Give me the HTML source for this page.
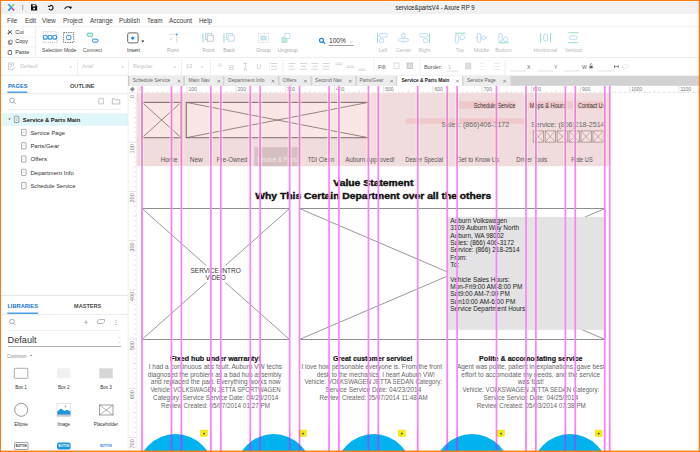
<!DOCTYPE html>
<html><head><meta charset="utf-8"><style>
html,body{margin:0;padding:0;width:700px;height:452px;overflow:hidden;background:#fff}
svg{display:block;font-family:"Liberation Sans", sans-serif}
</style></head><body>
<svg width="700" height="452" viewBox="0 0 700 452">
<rect x="0" y="0" width="700" height="452" fill="#ffffff"/>
<rect x="0" y="1.4" width="700" height="13.2" fill="#f1f1f1"/>
<rect x="0" y="14" width="700" height="12.5" fill="#ffffff"/>
<rect x="0" y="26.5" width="700" height="0.8" fill="#ebebeb"/>
<path d="M8.4,4.3 L11.6,7.4 L8.3,10.6" stroke="#1e9be8" stroke-width="1.6" fill="none"/>
<path d="M14,4.3 L12.3,6.2" stroke="#7dc242" stroke-width="1.4" fill="none"/>
<path d="M12.2,8.4 L14.1,10.5" stroke="#e6197e" stroke-width="1.4" fill="none"/>
<rect x="22.3" y="4.8" width="0.9" height="5.2" fill="#9a9a9a"/>
<path d="M31,4.3 h4.5 l1.6,1.6 v4.6 h-6.1 z" fill="#111"/>
<rect x="32.6" y="4.8" width="2.8" height="1.6" fill="#f1f1f1"/>
<rect x="33.2" y="7.8" width="1.8" height="1.6" fill="#f1f1f1"/>
<path d="M50.1,5.6 A2.2,2.2 0 1 1 48.9,8.8" stroke="#111" stroke-width="1.1" fill="none"/>
<path d="M47.9,6.3 L50.4,6.3" stroke="#111" stroke-width="1.2" fill="none"/>
<path d="M64.6,8.9 Q67.2,5.4 70,7.6" stroke="#111" stroke-width="1.1" fill="none"/>
<path d="M69,6.6 L72.2,6.7 L70.6,9.3 z" fill="#111"/>
<text x="395.5" y="9.6" font-size="6.4" fill="#222" textLength="79" lengthAdjust="spacingAndGlyphs">service&amp;partsV4 - Axure RP 9</text>
<text x="7" y="23" font-size="6.4" fill="#3c3c3c" font-weight="normal" text-anchor="start" >File</text>
<text x="25" y="23" font-size="6.4" fill="#3c3c3c" font-weight="normal" text-anchor="start" >Edit</text>
<text x="42" y="23" font-size="6.4" fill="#3c3c3c" font-weight="normal" text-anchor="start" >View</text>
<text x="63" y="23" font-size="6.4" fill="#3c3c3c" font-weight="normal" text-anchor="start" >Project</text>
<text x="90" y="23" font-size="6.4" fill="#3c3c3c" font-weight="normal" text-anchor="start" >Arrange</text>
<text x="119" y="23" font-size="6.4" fill="#3c3c3c" font-weight="normal" text-anchor="start" >Publish</text>
<text x="147" y="23" font-size="6.4" fill="#3c3c3c" font-weight="normal" text-anchor="start" >Team</text>
<text x="169" y="23" font-size="6.4" fill="#3c3c3c" font-weight="normal" text-anchor="start" >Account</text>
<text x="199" y="23" font-size="6.4" fill="#3c3c3c" font-weight="normal" text-anchor="start" >Help</text>
<rect x="0" y="27.3" width="700" height="30" fill="#ffffff"/>
<rect x="0" y="57.2" width="700" height="0.9" fill="#e9e9e9"/>
<rect x="35.3" y="27.3" width="0.8" height="30" fill="#ececec"/>
<rect x="2" y="36.8" width="33" height="0.7" fill="#efefef"/>
<rect x="2" y="46.8" width="33" height="0.7" fill="#efefef"/>
<path d="M8,30.3 L12,33.8 M12,30.3 L8,33.8" stroke="#444" stroke-width="0.9"/>
<circle cx="8.4" cy="33.4" r="0.7" fill="none" stroke="#444" stroke-width="0.5"/>
<text x="15.3" y="33.5" font-size="5.5" fill="#333" font-weight="normal" text-anchor="start" >Cut</text>
<path d="M8.4,40.4 v3.4 a0.6,0.6 0 0 0 0.6,0.6 h2.6" stroke="#555" stroke-width="0.7" fill="none"/>
<rect x="9.6" y="40.2" width="2.6" height="3.4" rx="0.5" fill="none" stroke="#555" stroke-width="0.7"/>
<text x="15.2" y="43.4" font-size="5.5" fill="#333" font-weight="normal" text-anchor="start" >Copy</text>
<rect x="8.2" y="50.6" width="3.4" height="3.9" rx="0.5" fill="none" stroke="#555" stroke-width="0.8"/>
<rect x="9.1" y="50.1" width="1.6" height="0.9" fill="#555"/>
<text x="15.2" y="53.6" font-size="5.5" fill="#333" font-weight="normal" text-anchor="start" >Paste</text>
<rect x="43.3" y="31.8" width="13.6" height="10.6" fill="none" stroke="#999" stroke-width="0.6" stroke-dasharray="1.1,0.9"/>
<circle cx="45.3" cy="37.3" r="2.0" fill="#fff" stroke="#2b8fe0" stroke-width="1.1"/>
<circle cx="50.0" cy="37.3" r="2.0" fill="#fff" stroke="#2b8fe0" stroke-width="1.1"/>
<circle cx="54.7" cy="37.3" r="2.0" fill="#fff" stroke="#2b8fe0" stroke-width="1.1"/>
<rect x="63.6" y="32.6" width="10.2" height="9.8" fill="none" stroke="#444" stroke-width="0.8" stroke-dasharray="1.3,1"/>
<rect x="66.6" y="35.4" width="4.3" height="4.2" rx="1" fill="#fff" stroke="#2b8fe0" stroke-width="1"/>
<text x="42.1" y="51.6" font-size="5.3" fill="#444" textLength="34.3" lengthAdjust="spacingAndGlyphs">Selection Mode</text>
<rect x="87.2" y="33.2" width="5.4" height="3" rx="1" fill="#fff" stroke="#40c8a8" stroke-width="1"/>
<rect x="92.6" y="39.2" width="5.4" height="3" rx="1" fill="#fff" stroke="#2b8fe0" stroke-width="1"/>
<path d="M90.5,36.3 L93.5,38.6" stroke="#aaa" stroke-width="0.6"/>
<text x="92.5" y="51.8" font-size="5.2" fill="#555" font-weight="normal" text-anchor="middle" >Connect</text>
<rect x="127.7" y="32.9" width="10.4" height="10" rx="1.5" fill="#fff" stroke="#555" stroke-width="0.9"/>
<path d="M132.8,36.2 L134.8,38.1 L132.8,40.1 L130.8,38.1 z" fill="#1e88e5"/>
<path d="M141.3,40.5 h3 l-1.5,1.7 z" fill="#111"/>
<text x="133.5" y="51.8" font-size="5.2" fill="#333" font-weight="normal" text-anchor="middle" >Insert</text>
<path d="M168.5,34.3 h8 M176.7,34.3 v8.5" stroke="#d8d8d8" stroke-width="0.8" fill="none"/>
<circle cx="176.7" cy="34.4" r="0.9" fill="#2b8fe0"/>
<path d="M169.8,40.3 L172.6,37.6" stroke="#aaa" stroke-width="0.7"/>
<text x="173" y="51.8" font-size="5.2" fill="#aaa" font-weight="normal" text-anchor="middle" >Point</text>
<path d="M203,33.5 v9" stroke="#7fd9bf" stroke-width="0.9"/>
<rect x="205.5" y="33.5" width="6" height="6" fill="#fff" stroke="#b8d8ee" stroke-width="0.9"/>
<rect x="207.2" y="35.2" width="6" height="6" fill="#fff" stroke="#c0c0c0" stroke-width="0.9"/>
<text x="208.5" y="51.8" font-size="5.2" fill="#aaa" font-weight="normal" text-anchor="middle" >Front</text>
<path d="M224,33.5 v9" stroke="#7fd9bf" stroke-width="0.9"/>
<rect x="226.5" y="33.5" width="6" height="6" fill="#fff" stroke="#b8d8ee" stroke-width="0.9"/>
<rect x="228.2" y="35.2" width="6" height="6" fill="#fff" stroke="#b8d8ee" stroke-width="0.9"/>
<text x="229" y="51.8" font-size="5.2" fill="#aaa" font-weight="normal" text-anchor="middle" >Back</text>
<rect x="258.5" y="33.5" width="10" height="9" fill="none" stroke="#bbb" stroke-width="0.6" stroke-dasharray="1,0.8"/>
<rect x="261" y="36" width="5" height="4" fill="#cde8f5" stroke="#9ccfe8" stroke-width="0.6"/>
<text x="263.5" y="51.8" font-size="5.2" fill="#aaa" font-weight="normal" text-anchor="middle" >Group</text>
<rect x="282" y="37.5" width="5" height="5" fill="#bfe8de" stroke="#8fd6c4" stroke-width="0.6"/>
<rect x="285" y="33.5" width="5" height="5" fill="#fff" stroke="#9ccfe8" stroke-width="0.6"/>
<text x="287.8" y="51.8" font-size="5.2" fill="#aaa" font-weight="normal" text-anchor="middle" >Ungroup</text>
<circle cx="321.5" cy="40.3" r="2" fill="none" stroke="#1e88e5" stroke-width="1.2"/>
<path d="M323,41.8 L325,43.8" stroke="#1e88e5" stroke-width="1.3"/>
<text x="329" y="43.2" font-size="6.6" fill="#333" font-weight="normal" text-anchor="start" >100%</text>
<rect x="328.5" y="45" width="25" height="0.7" fill="#777"/>
<path d="M350,41.5 l1.3,1.2 l1.3,-1.2" stroke="#999" stroke-width="0.5" fill="none"/>
<path d="M377.5,33.3 v9.5" stroke="#8fe0c8" stroke-width="1"/>
<rect x="379.3" y="33.6" width="8" height="3.4" rx="1.2" fill="none" stroke="#a8d4f0" stroke-width="0.8"/>
<rect x="379.3" y="38.7" width="4.5" height="3.8" rx="1.5" fill="none" stroke="#a8d4f0" stroke-width="0.8"/>
<text x="383" y="51.8" font-size="5.2" fill="#bbb" font-weight="normal" text-anchor="middle" >Left</text>
<circle cx="403.5" cy="35.4" r="1.9" fill="none" stroke="#a8d4f0" stroke-width="0.8"/>
<rect x="398.5" y="38.4" width="10" height="3" rx="1.3" fill="none" stroke="#a8d4f0" stroke-width="0.8"/>
<path d="M403.5,32.8 v1 M403.5,41.6 v1.4" stroke="#8fe0c8" stroke-width="0.8"/>
<text x="403.5" y="51.8" font-size="5.2" fill="#bbb" font-weight="normal" text-anchor="middle" >Center</text>
<path d="M429.5,33.3 v9.5" stroke="#8fe0c8" stroke-width="1"/>
<rect x="419.8" y="33.6" width="8" height="3.4" rx="1.2" fill="none" stroke="#a8d4f0" stroke-width="0.8"/>
<rect x="423.3" y="38.7" width="4.5" height="3.8" rx="1.5" fill="none" stroke="#a8d4f0" stroke-width="0.8"/>
<text x="424.5" y="51.8" font-size="5.2" fill="#bbb" font-weight="normal" text-anchor="middle" >Right</text>
<path d="M455,33.2 h10.5" stroke="#8fe0c8" stroke-width="1"/>
<rect x="455.3" y="35" width="3.4" height="8" rx="1.2" fill="none" stroke="#a8d4f0" stroke-width="0.8"/>
<rect x="460.3" y="35" width="4" height="4.5" rx="1.5" fill="none" stroke="#a8d4f0" stroke-width="0.8"/>
<text x="460" y="51.8" font-size="5.2" fill="#bbb" font-weight="normal" text-anchor="middle" >Top</text>
<path d="M475.3,37.8 h11.5" stroke="#8fe0c8" stroke-width="0.8"/>
<rect x="477.3" y="33.5" width="3.4" height="8.6" rx="1.3" fill="#fff" stroke="#a8d4f0" stroke-width="0.8"/>
<circle cx="483.6" cy="37.8" r="1.9" fill="#fff" stroke="#a8d4f0" stroke-width="0.8"/>
<text x="481.5" y="51.8" font-size="5.2" fill="#bbb" font-weight="normal" text-anchor="middle" >Middle</text>
<path d="M498.5,42.8 h10.5" stroke="#8fe0c8" stroke-width="1"/>
<rect x="498.8" y="33.5" width="3.4" height="8" rx="1.2" fill="none" stroke="#a8d4f0" stroke-width="0.8"/>
<rect x="503.6" y="37" width="4" height="4.5" rx="1.5" fill="none" stroke="#a8d4f0" stroke-width="0.8"/>
<text x="503.5" y="51.8" font-size="5.2" fill="#bbb" font-weight="normal" text-anchor="middle" >Bottom</text>
<path d="M540.6,33 v9.5 M550.6,33 v9.5" stroke="#8fe0c8" stroke-width="1"/>
<rect x="543.7" y="34.2" width="3.8" height="7" rx="1.5" fill="none" stroke="#a8d4f0" stroke-width="0.8"/>
<text x="545.5" y="51.8" font-size="5.2" fill="#bbb" font-weight="normal" text-anchor="middle" >Horizontal</text>
<path d="M568.3,32.7 h10 M568.3,42.7 h10" stroke="#8fe0c8" stroke-width="1"/>
<rect x="569.5" y="35.8" width="7.5" height="3.8" rx="1.5" fill="none" stroke="#a8d4f0" stroke-width="0.8"/>
<text x="573.3" y="51.8" font-size="5.2" fill="#bbb" font-weight="normal" text-anchor="middle" >Vertical</text>
<rect x="0" y="58.1" width="700" height="17" fill="#ffffff"/>
<rect x="0" y="74.8" width="128" height="0.9" fill="#e6e6e6"/>
<rect x="77" y="58.5" width="0.8" height="16.3" fill="#ececec"/>
<rect x="128" y="58.5" width="0.8" height="16.3" fill="#ececec"/>
<rect x="181" y="58.5" width="0.8" height="16.3" fill="#ececec"/>
<rect x="210" y="58.5" width="0.8" height="16.3" fill="#ececec"/>
<rect x="282.5" y="58.5" width="0.8" height="16.3" fill="#ececec"/>
<rect x="373.7" y="58.5" width="0.8" height="16.3" fill="#ececec"/>
<rect x="419.5" y="58.5" width="0.8" height="16.3" fill="#ececec"/>
<rect x="504.6" y="58.5" width="0.8" height="16.3" fill="#ececec"/>
<path d="M12.5,69.8 h-4 v-6.8 h5 v3.2 M9.6,64.6 h2.6 M9.6,66.2 h2.6 M9.6,67.8 h1.4" stroke="#b0b0b0" stroke-width="0.6" fill="none"/>
<path d="M12,70 l2.6,-2.6" stroke="#b0b0b0" stroke-width="0.8"/>
<text x="20" y="68.3" font-size="5.6" fill="#c4c4c4" font-weight="normal" text-anchor="start" >Default</text>
<path d="M69.3,66.6 h2.4 l-1.2,1.2 z" fill="#aaa"/>
<text x="82" y="68.3" font-size="5.6" fill="#c4c4c4" font-weight="normal" text-anchor="start" >Arial</text>
<path d="M121.3,66.6 h2.4 l-1.2,1.2 z" fill="#aaa"/>
<text x="133" y="68.3" font-size="5.6" fill="#c4c4c4" font-weight="normal" text-anchor="start" >Regular</text>
<path d="M173.5,66.6 h2.4 l-1.2,1.2 z" fill="#aaa"/>
<text x="186" y="68.3" font-size="5.6" fill="#c4c4c4" font-weight="normal" text-anchor="start" >13</text>
<path d="M201,66.6 h2.4 l-1.2,1.2 z" fill="#aaa"/>
<text x="218" y="67" font-size="5.6" fill="#ccc" font-weight="normal" text-anchor="start" >A</text>
<text x="228.8" y="70.2" font-size="8" fill="#cccccc" font-weight="normal" text-anchor="start" >B</text>
<path d="M243.5,63.3 h3.4 M243.6,69.7 h3.4 M245.9,63.3 l-1.2,6.4" stroke="#c8c8c8" stroke-width="0.8"/>
<text x="256.5" y="69" font-size="6.5" fill="#c8c8c8" font-weight="normal" text-anchor="start" >U</text>
<path d="M269,63.5 h1 m1,0 h6 M269,66.3 h1 m1,0 h6 M269,69.2 h1 m1,0 h6" stroke="#ccc" stroke-width="0.8"/>
<path d="M288.5,63.5 h7 M288.5,66.3 h5 M288.5,69.2 h7" stroke="#ccc" stroke-width="0.8"/>
<path d="M300,63.5 h7 M301,66.3 h5 M300,69.2 h7" stroke="#ccc" stroke-width="0.8"/>
<path d="M311.5,63.5 h7 M312.5,66.3 h5 M311.5,69.2 h7" stroke="#ccc" stroke-width="0.8"/>
<path d="M322.5,63.5 h7 M322.5,66.3 h7 M322.5,69.2 h7" stroke="#ccc" stroke-width="0.8"/>
<path d="M335.5,63 h7 M335.5,64.5 h7 M347,66 h7 M347,67.5 h7 M358.5,69 h7 M358.5,70.5 h7" stroke="#ccc" stroke-width="0.7"/>
<text x="378" y="68.8" font-size="5.6" fill="#555" font-weight="normal" text-anchor="start" >Fill:</text>
<rect x="394" y="63" width="5" height="5.5" fill="#fff" stroke="#ccc" stroke-width="0.7"/>
<rect x="407" y="63" width="5.5" height="5.5" fill="#ddd" stroke="#bbb" stroke-width="0.7"/>
<text x="424" y="68.8" font-size="5.6" fill="#555" font-weight="normal" text-anchor="start" >Border:</text>
<text x="448" y="68.5" font-size="5.6" fill="#bbb" font-weight="normal" text-anchor="start" >1</text>
<rect x="447" y="70.8" width="11" height="0.6" fill="#ccc"/>
<rect x="465.5" y="63" width="5.5" height="6" fill="#ddd" stroke="#ccc" stroke-width="0.5"/>
<path d="M480,63.5 h6 M480,66.5 h6 M480,69.5 h6" stroke="#ddd" stroke-width="0.6" stroke-dasharray="1,1"/>
<path d="M494,63.5 h6 M494,66.5 h6 M494,69.5 h6" stroke="#ddd" stroke-width="0.6"/>
<rect x="510" y="70.7" width="16" height="0.6" fill="#ccc"/>
<text x="527" y="68.8" font-size="5.2" fill="#666" font-weight="normal" text-anchor="start" >X</text>
<rect x="537" y="70.7" width="16" height="0.6" fill="#ccc"/>
<text x="554" y="68.8" font-size="5.2" fill="#666" font-weight="normal" text-anchor="start" >Y</text>
<rect x="564" y="70.7" width="16" height="0.6" fill="#ccc"/>
<text x="582" y="68.8" font-size="5.2" fill="#666" font-weight="normal" text-anchor="start" >W</text>
<rect x="589.5" y="65.8" width="3.2" height="2.6" fill="#666"/>
<path d="M590.2,65.8 v-1.2 a1,1 0 0 1 2,0" stroke="#666" stroke-width="0.6" fill="none"/>
<rect x="598" y="70.7" width="16" height="0.6" fill="#ccc"/>
<path d="M614.5,65 v3 M618.3,65 v3 M614.5,66.5 h3.8" stroke="#666" stroke-width="0.7"/>
<ellipse cx="625.5" cy="66.3" rx="3" ry="1.9" fill="none" stroke="#ddd" stroke-width="0.6"/>
<rect x="0" y="75.7" width="128" height="375" fill="#ffffff"/>
<rect x="0" y="93.3" width="128" height="0.9" fill="#e8e8e8"/>
<text x="8" y="87.8" font-size="5.7" fill="#1976d2" font-weight="bold" text-anchor="start" >PAGES</text>
<rect x="7.3" y="91.6" width="20" height="1.2" fill="#1e88e5"/>
<text x="70" y="87.8" font-size="5.6" fill="#4a4a4a" font-weight="bold" text-anchor="start" >OUTLINE</text>
<circle cx="12" cy="100.3" r="2.3" fill="none" stroke="#888" stroke-width="0.7"/>
<path d="M13.6,102 L15.6,104" stroke="#888" stroke-width="0.8"/>
<rect x="98.8" y="98.3" width="4.6" height="5.6" rx="0.6" fill="none" stroke="#999" stroke-width="0.6"/>
<path d="M112.3,98.8 h2.5 l0.8,1 h4.2 v4.2 h-7.5 z" fill="none" stroke="#999" stroke-width="0.6"/>
<rect x="8" y="109.2" width="113" height="0.7" fill="#e6e6e6"/>
<rect x="1" y="113.2" width="127" height="12.6" fill="#e0f7fa"/>
<path d="M8.3,118.5 h2.4 l-1.2,1.5 z" fill="#444"/>
<rect x="14.3" y="116.3" width="4.6" height="6.2" rx="0.5" fill="none" stroke="#666" stroke-width="0.6"/>
<path d="M15.6,118.2 h2 M15.6,119.4 h2 M15.6,120.6 h2" stroke="#999" stroke-width="0.4"/>
<text x="22.8" y="121.5" font-size="5.9" fill="#222" font-weight="bold" textLength="57.4" lengthAdjust="spacingAndGlyphs">Service &amp; Parts Main</text>
<rect x="21.5" y="129.4" width="4.6" height="6.2" rx="0.5" fill="none" stroke="#777" stroke-width="0.6"/>
<path d="M22.8,132.29999999999998 h2" stroke="#999" stroke-width="0.4"/>
<text x="30.4" y="134.70" font-size="5.8" fill="#333" textLength="34.60" lengthAdjust="spacingAndGlyphs">Service Page</text>
<rect x="21.5" y="142.68" width="4.6" height="6.2" rx="0.5" fill="none" stroke="#777" stroke-width="0.6"/>
<path d="M22.8,145.57999999999998 h2" stroke="#999" stroke-width="0.4"/>
<text x="30.4" y="147.98" font-size="5.8" fill="#333" textLength="28.80" lengthAdjust="spacingAndGlyphs">Parts/Gear</text>
<rect x="21.5" y="155.96" width="4.6" height="6.2" rx="0.5" fill="none" stroke="#777" stroke-width="0.6"/>
<path d="M22.8,158.85999999999999 h2" stroke="#999" stroke-width="0.4"/>
<text x="30.4" y="161.26" font-size="5.8" fill="#333" textLength="16.60" lengthAdjust="spacingAndGlyphs">Offers</text>
<rect x="21.5" y="169.24" width="4.6" height="6.2" rx="0.5" fill="none" stroke="#777" stroke-width="0.6"/>
<path d="M22.8,172.14 h2" stroke="#999" stroke-width="0.4"/>
<text x="30.4" y="174.54" font-size="5.8" fill="#333" textLength="43.50" lengthAdjust="spacingAndGlyphs">Department Info</text>
<rect x="21.5" y="182.52" width="4.6" height="6.2" rx="0.5" fill="none" stroke="#777" stroke-width="0.6"/>
<path d="M22.8,185.42 h2" stroke="#999" stroke-width="0.4"/>
<text x="30.4" y="187.82" font-size="5.8" fill="#333" textLength="45.10" lengthAdjust="spacingAndGlyphs">Schedule Service</text>
<rect x="0" y="295" width="128" height="1.3" fill="#e6e6e6"/>
<rect x="0" y="296.3" width="128" height="17.5" fill="#ffffff"/>
<text x="7.4" y="308.4" font-size="5.7" fill="#1976d2" font-weight="bold" text-anchor="start" >LIBRARIES</text>
<rect x="7.3" y="312.6" width="30.8" height="1.2" fill="#1e88e5"/>
<text x="74" y="308.4" font-size="5.6" fill="#4a4a4a" font-weight="bold" text-anchor="start" >MASTERS</text>
<rect x="0" y="314" width="128" height="0.8" fill="#e8e8e8"/>
<circle cx="12" cy="321.5" r="2.3" fill="none" stroke="#888" stroke-width="0.7"/>
<path d="M13.6,323.2 L15.6,325.2" stroke="#888" stroke-width="0.8"/>
<path d="M86,320 v4.6 M83.7,322.3 h4.6" stroke="#999" stroke-width="0.6"/>
<path d="M97.5,321 l2,-1.5 h5 v2.5 l-2,1.5 h-5 z" fill="none" stroke="#888" stroke-width="0.6"/>
<path d="M116,320 v0.9 M116,322 v0.9 M116,324 v0.9" stroke="#888" stroke-width="0.8"/>
<rect x="8" y="330.2" width="113" height="0.7" fill="#eaeaea"/>
<text x="7.6" y="343" font-size="8.8" fill="#333" textLength="29" lengthAdjust="spacingAndGlyphs">Default</text>
<path d="M117.8,338.3 l1.2,-1.2 l1.2,1.2 M117.8,341.6 l1.2,1.2 l1.2,-1.2" stroke="#bbb" stroke-width="0.5" fill="none"/>
<rect x="8" y="346.2" width="113" height="0.8" fill="#999"/>
<text x="7" y="357.5" font-size="4.8" fill="#888" font-weight="normal" text-anchor="start" >Common</text>
<path d="M30,355 h2 l-1,1.3 z" fill="#555"/>
<rect x="14.3" y="368.3" width="13.5" height="10" rx="0.8" fill="#fff" stroke="#888" stroke-width="0.7"/>
<rect x="57" y="368.3" width="13.5" height="10" fill="#f0f0f0"/>
<rect x="99.3" y="368.3" width="13.5" height="10" fill="#d6d6d6"/>
<text x="21" y="389.2" font-size="4.6" fill="#333" font-weight="normal" text-anchor="middle" >Box 1</text>
<text x="63.8" y="389.2" font-size="4.6" fill="#333" font-weight="normal" text-anchor="middle" >Box 2</text>
<text x="106" y="389.2" font-size="4.6" fill="#333" font-weight="normal" text-anchor="middle" >Box 3</text>
<circle cx="21.2" cy="409.8" r="6.5" fill="#fff" stroke="#666" stroke-width="0.7"/>
<rect x="57" y="403.3" width="13.6" height="13.5" fill="#fff" stroke="#ccc" stroke-width="0.5"/>
<path d="M57.3,411.5 L61,408.5 L64.5,411 L67,409.8 L70.4,411.3 V415.5 H57.3 z" fill="#1e96d8"/>
<rect x="57.3" y="414.5" width="13.1" height="2" fill="#c8c8c8"/>
<circle cx="65.5" cy="406.5" r="1.2" fill="#ccc"/>
<rect x="99.5" y="405" width="13.5" height="10" fill="#fff" stroke="#666" stroke-width="0.6"/>
<path d="M99.5,405 L113,415 M113,405 L99.5,415" stroke="#666" stroke-width="0.5"/>
<text x="21" y="425.5" font-size="4.6" fill="#333" font-weight="normal" text-anchor="middle" >Ellipse</text>
<text x="63.8" y="425.5" font-size="4.6" fill="#333" font-weight="normal" text-anchor="middle" >Image</text>
<text x="106" y="425.5" font-size="4.6" fill="#333" font-weight="normal" text-anchor="middle" >Placeholder</text>
<rect x="14.5" y="442.5" width="13.5" height="7" rx="1" fill="#fff" stroke="#666" stroke-width="0.6"/>
<text x="21.2" y="447.3" font-size="2.6" fill="#333" font-weight="bold" text-anchor="middle" >BUTTON</text>
<rect x="57" y="442.5" width="13.6" height="7" rx="2" fill="#1e96d8"/>
<text x="63.8" y="447.3" font-size="2.6" fill="#fff" font-weight="bold" text-anchor="middle" >BUTTON</text>
<text x="106" y="447.3" font-size="2.8" fill="#1e88e5" font-weight="bold" text-anchor="middle" >BUTTON</text>
<rect x="127.8" y="75.7" width="0.8" height="375" fill="#e2e2e2"/>
<rect x="128.6" y="75.7" width="572" height="10.2" fill="#d2d2d2"/>
<rect x="128" y="75.7" width="1.2" height="10.2" fill="#c8c8c8"/>
<rect x="129.3" y="75.9" width="53.79999999999998" height="10" fill="#ececec"/>
<text x="132.80" y="82.4" font-size="5.4" fill="#666" font-weight="normal" textLength="37.50" lengthAdjust="spacingAndGlyphs" >Schedule Service</text>
<path d="M177.79999999999998,79.9 l2.6,2.6 M180.4,79.9 l-2.6,2.6" stroke="#555" stroke-width="0.55"/>
<rect x="185" y="75.9" width="37.80000000000001" height="10" fill="#ececec"/>
<text x="188.60" y="82.4" font-size="5.4" fill="#666" font-weight="normal" textLength="21.30" lengthAdjust="spacingAndGlyphs" >Main Nav</text>
<path d="M217.6,79.9 l2.6,2.6 M220.20000000000002,79.9 l-2.6,2.6" stroke="#555" stroke-width="0.55"/>
<rect x="224.3" y="75.9" width="53.599999999999966" height="10" fill="#ececec"/>
<text x="228.00" y="82.4" font-size="5.4" fill="#666" font-weight="normal" textLength="36.60" lengthAdjust="spacingAndGlyphs" >Department Info</text>
<path d="M271.8,79.9 l2.6,2.6 M274.40000000000003,79.9 l-2.6,2.6" stroke="#555" stroke-width="0.55"/>
<rect x="279.5" y="75.9" width="31.100000000000023" height="10" fill="#ececec"/>
<text x="282.60" y="82.4" font-size="5.4" fill="#666" font-weight="normal" textLength="14.10" lengthAdjust="spacingAndGlyphs" >Offers</text>
<path d="M304.09999999999997,79.9 l2.6,2.6 M306.7,79.9 l-2.6,2.6" stroke="#555" stroke-width="0.55"/>
<rect x="312.1" y="75.9" width="43.299999999999955" height="10" fill="#ececec"/>
<text x="315.10" y="82.4" font-size="5.4" fill="#666" font-weight="normal" textLength="26.90" lengthAdjust="spacingAndGlyphs" >Second Nav</text>
<path d="M349.0,79.9 l2.6,2.6 M351.6,79.9 l-2.6,2.6" stroke="#555" stroke-width="0.55"/>
<rect x="357" y="75.9" width="38.80000000000001" height="10" fill="#ececec"/>
<text x="359.40" y="82.4" font-size="5.4" fill="#666" font-weight="normal" textLength="24.00" lengthAdjust="spacingAndGlyphs" >Parts/Gear</text>
<path d="M390.4,79.9 l2.6,2.6 M393.0,79.9 l-2.6,2.6" stroke="#555" stroke-width="0.55"/>
<rect x="397.2" y="75.9" width="64.80000000000001" height="10" fill="#ffffff"/>
<text x="401.40" y="82.4" font-size="5.4" fill="#222" font-weight="bold" textLength="47.80" lengthAdjust="spacingAndGlyphs" >Service &amp; Parts Main</text>
<path d="M456.2,79.9 l2.6,2.6 M458.8,79.9 l-2.6,2.6" stroke="#555" stroke-width="0.55"/>
<rect x="463.3" y="75.9" width="47.30000000000001" height="10" fill="#ececec"/>
<text x="466.90" y="82.4" font-size="5.4" fill="#666" font-weight="normal" textLength="28.90" lengthAdjust="spacingAndGlyphs" >Service Page</text>
<path d="M503.3,79.9 l2.6,2.6 M505.90000000000003,79.9 l-2.6,2.6" stroke="#555" stroke-width="0.55"/>
<rect x="128.6" y="85.9" width="572" height="7" fill="#ffffff"/>
<rect x="128.6" y="92.6" width="572" height="0.5" fill="#e3e3e3"/>
<rect x="128.6" y="85.9" width="8" height="365" fill="#ffffff"/>
<rect x="136.1" y="93" width="0.6" height="358" fill="#e3e3e3"/>
<path d="M132.4,86.8 l2.5,2.5 l-2.5,2.5 l-2.5,-2.5 z" fill="#8e8e8e"/>
<text x="139.2" y="91.2" font-size="5.0" fill="#777" font-weight="normal" text-anchor="start" >0</text>
<text x="188.39999999999998" y="91.2" font-size="5.0" fill="#777" font-weight="normal" text-anchor="start" >100</text>
<text x="237.6" y="91.2" font-size="5.0" fill="#777" font-weight="normal" text-anchor="start" >200</text>
<text x="286.79999999999995" y="91.2" font-size="5.0" fill="#777" font-weight="normal" text-anchor="start" >300</text>
<text x="336.0" y="91.2" font-size="5.0" fill="#777" font-weight="normal" text-anchor="start" >400</text>
<text x="385.2" y="91.2" font-size="5.0" fill="#777" font-weight="normal" text-anchor="start" >500</text>
<text x="434.4" y="91.2" font-size="5.0" fill="#777" font-weight="normal" text-anchor="start" >600</text>
<text x="483.59999999999997" y="91.2" font-size="5.0" fill="#777" font-weight="normal" text-anchor="start" >700</text>
<text x="532.8" y="91.2" font-size="5.0" fill="#777" font-weight="normal" text-anchor="start" >800</text>
<text x="582.0" y="91.2" font-size="5.0" fill="#777" font-weight="normal" text-anchor="start" >900</text>
<text x="631.2" y="91.2" font-size="5.0" fill="#777" font-weight="normal" text-anchor="start" >1000</text>
<text x="680.4000000000001" y="91.2" font-size="5.0" fill="#777" font-weight="normal" text-anchor="start" >1100</text>
<path d="M137.70,86 v6.8 M142.62,91.3 v1.5 M147.54,91.3 v1.5 M152.46,91.3 v1.5 M157.38,91.3 v1.5 M162.30,90 v2.8 M167.22,91.3 v1.5 M172.14,91.3 v1.5 M177.06,91.3 v1.5 M181.98,91.3 v1.5 M186.90,86 v6.8 M191.82,91.3 v1.5 M196.74,91.3 v1.5 M201.66,91.3 v1.5 M206.58,91.3 v1.5 M211.50,90 v2.8 M216.42,91.3 v1.5 M221.34,91.3 v1.5 M226.26,91.3 v1.5 M231.18,91.3 v1.5 M236.10,86 v6.8 M241.02,91.3 v1.5 M245.94,91.3 v1.5 M250.86,91.3 v1.5 M255.78,91.3 v1.5 M260.70,90 v2.8 M265.62,91.3 v1.5 M270.54,91.3 v1.5 M275.46,91.3 v1.5 M280.38,91.3 v1.5 M285.30,86 v6.8 M290.22,91.3 v1.5 M295.14,91.3 v1.5 M300.06,91.3 v1.5 M304.98,91.3 v1.5 M309.90,90 v2.8 M314.82,91.3 v1.5 M319.74,91.3 v1.5 M324.66,91.3 v1.5 M329.58,91.3 v1.5 M334.50,86 v6.8 M339.42,91.3 v1.5 M344.34,91.3 v1.5 M349.26,91.3 v1.5 M354.18,91.3 v1.5 M359.10,90 v2.8 M364.02,91.3 v1.5 M368.94,91.3 v1.5 M373.86,91.3 v1.5 M378.78,91.3 v1.5 M383.70,86 v6.8 M388.62,91.3 v1.5 M393.54,91.3 v1.5 M398.46,91.3 v1.5 M403.38,91.3 v1.5 M408.30,90 v2.8 M413.22,91.3 v1.5 M418.14,91.3 v1.5 M423.06,91.3 v1.5 M427.98,91.3 v1.5 M432.90,86 v6.8 M437.82,91.3 v1.5 M442.74,91.3 v1.5 M447.66,91.3 v1.5 M452.58,91.3 v1.5 M457.50,90 v2.8 M462.42,91.3 v1.5 M467.34,91.3 v1.5 M472.26,91.3 v1.5 M477.18,91.3 v1.5 M482.10,86 v6.8 M487.02,91.3 v1.5 M491.94,91.3 v1.5 M496.86,91.3 v1.5 M501.78,91.3 v1.5 M506.70,90 v2.8 M511.62,91.3 v1.5 M516.54,91.3 v1.5 M521.46,91.3 v1.5 M526.38,91.3 v1.5 M531.30,86 v6.8 M536.22,91.3 v1.5 M541.14,91.3 v1.5 M546.06,91.3 v1.5 M550.98,91.3 v1.5 M555.90,90 v2.8 M560.82,91.3 v1.5 M565.74,91.3 v1.5 M570.66,91.3 v1.5 M575.58,91.3 v1.5 M580.50,86 v6.8 M585.42,91.3 v1.5 M590.34,91.3 v1.5 M595.26,91.3 v1.5 M600.18,91.3 v1.5 M605.10,90 v2.8 M610.02,91.3 v1.5 M614.94,91.3 v1.5 M619.86,91.3 v1.5 M624.78,91.3 v1.5 M629.70,86 v6.8 M634.62,91.3 v1.5 M639.54,91.3 v1.5 M644.46,91.3 v1.5 M649.38,91.3 v1.5 M654.30,90 v2.8 M659.22,91.3 v1.5 M664.14,91.3 v1.5 M669.06,91.3 v1.5 M673.98,91.3 v1.5 M678.90,86 v6.8 M683.82,91.3 v1.5 M688.74,91.3 v1.5 M693.66,91.3 v1.5 M698.58,91.3 v1.5" stroke="#c4c4c4" stroke-width="0.5"/>
<text x="0" y="0" font-size="5.5" fill="#777" transform="translate(134.3,94.90) rotate(-90) translate(-3.06,0)">0</text>
<text x="0" y="0" font-size="5.5" fill="#777" transform="translate(134.3,144.10) rotate(-90) translate(-9.18,0)">100</text>
<text x="0" y="0" font-size="5.5" fill="#777" transform="translate(134.3,193.30) rotate(-90) translate(-9.18,0)">200</text>
<text x="0" y="0" font-size="5.5" fill="#777" transform="translate(134.3,242.50) rotate(-90) translate(-9.18,0)">300</text>
<text x="0" y="0" font-size="5.5" fill="#777" transform="translate(134.3,291.70) rotate(-90) translate(-9.18,0)">400</text>
<text x="0" y="0" font-size="5.5" fill="#777" transform="translate(134.3,340.90) rotate(-90) translate(-9.18,0)">500</text>
<text x="0" y="0" font-size="5.5" fill="#777" transform="translate(134.3,390.10) rotate(-90) translate(-9.18,0)">600</text>
<text x="0" y="0" font-size="5.5" fill="#777" transform="translate(134.3,439.30) rotate(-90) translate(-9.18,0)">700</text>
<path d="M129,93.00 h7 M134.3,97.92 h1.7 M134.3,102.84 h1.7 M134.3,107.76 h1.7 M134.3,112.68 h1.7 M133,117.60 h3 M134.3,122.52 h1.7 M134.3,127.44 h1.7 M134.3,132.36 h1.7 M134.3,137.28 h1.7 M129,142.20 h7 M134.3,147.12 h1.7 M134.3,152.04 h1.7 M134.3,156.96 h1.7 M134.3,161.88 h1.7 M133,166.80 h3 M134.3,171.72 h1.7 M134.3,176.64 h1.7 M134.3,181.56 h1.7 M134.3,186.48 h1.7 M129,191.40 h7 M134.3,196.32 h1.7 M134.3,201.24 h1.7 M134.3,206.16 h1.7 M134.3,211.08 h1.7 M133,216.00 h3 M134.3,220.92 h1.7 M134.3,225.84 h1.7 M134.3,230.76 h1.7 M134.3,235.68 h1.7 M129,240.60 h7 M134.3,245.52 h1.7 M134.3,250.44 h1.7 M134.3,255.36 h1.7 M134.3,260.28 h1.7 M133,265.20 h3 M134.3,270.12 h1.7 M134.3,275.04 h1.7 M134.3,279.96 h1.7 M134.3,284.88 h1.7 M129,289.80 h7 M134.3,294.72 h1.7 M134.3,299.64 h1.7 M134.3,304.56 h1.7 M134.3,309.48 h1.7 M133,314.40 h3 M134.3,319.32 h1.7 M134.3,324.24 h1.7 M134.3,329.16 h1.7 M134.3,334.08 h1.7 M129,339.00 h7 M134.3,343.92 h1.7 M134.3,348.84 h1.7 M134.3,353.76 h1.7 M134.3,358.68 h1.7 M133,363.60 h3 M134.3,368.52 h1.7 M134.3,373.44 h1.7 M134.3,378.36 h1.7 M134.3,383.28 h1.7 M129,388.20 h7 M134.3,393.12 h1.7 M134.3,398.04 h1.7 M134.3,402.96 h1.7 M134.3,407.88 h1.7 M133,412.80 h3 M134.3,417.72 h1.7 M134.3,422.64 h1.7 M134.3,427.56 h1.7 M134.3,432.48 h1.7 M129,437.40 h7 M134.3,442.32 h1.7 M134.3,447.24 h1.7" stroke="#c4c4c4" stroke-width="0.5"/>
<rect x="136.7" y="93.1" width="563" height="357" fill="#ffffff"/>
<rect x="136.7" y="93.1" width="472.5" height="73.1" fill="#f0dbdd"/>
<rect x="142.1" y="102.4" width="39" height="35.3" fill="#fbe6e6" stroke="#8a7272" stroke-width="1.1"/>
<path d="M142.1,102.4 L181.1,137.7 M181.1,102.4 L142.1,137.7" stroke="#806868" stroke-width="0.8"/>
<rect x="186.3" y="102.4" width="182" height="35.3" fill="#fbe6e6" stroke="#8a7272" stroke-width="1.1"/>
<path d="M186.3,102.4 L368.3,137.7 M368.3,102.4 L186.3,137.7" stroke="#806868" stroke-width="0.8"/>
<rect x="457.4" y="101.1" width="58" height="7.5" fill="#efc9c9"/>
<text x="473.70" y="107.7" font-size="6.4" fill="#333" font-weight="normal" textLength="41.70" lengthAdjust="spacingAndGlyphs" >Schedule Service</text>
<rect x="527.7" y="101.1" width="45.3" height="7.5" fill="#efc9c9"/>
<text x="529.70" y="107.7" font-size="6.4" fill="#333" font-weight="normal" textLength="36.10" lengthAdjust="spacingAndGlyphs" >Maps &amp; Hours</text>
<rect x="576" y="101.1" width="29.5" height="7.5" fill="#efc9c9"/>
<text x="578.00" y="107.7" font-size="6.4" fill="#333" font-weight="normal" textLength="27.30" lengthAdjust="spacingAndGlyphs" >Contact Us</text>
<rect x="405.7" y="118.3" width="119.3" height="5.3" fill="#efc9c9"/>
<text x="441.40" y="126.9" font-size="8.0" fill="#666" font-weight="normal" textLength="67.80" lengthAdjust="spacingAndGlyphs" >Sales: (866)406-3172</text>
<text x="531.10" y="126.9" font-size="8.0" fill="#666" font-weight="normal" textLength="73.40" lengthAdjust="spacingAndGlyphs" >Service: (866)218-2514</text>
<rect x="533.2" y="130.9" width="10.3" height="11.2" fill="#f7e0e0" stroke="#8a7575" stroke-width="0.6"/>
<path d="M533.2,130.9 L543.5,142.1 M543.5,130.9 L533.2,142.1" stroke="#8a7575" stroke-width="0.5"/>
<rect x="545.1500000000001" y="130.9" width="10.3" height="11.2" fill="#f7e0e0" stroke="#8a7575" stroke-width="0.6"/>
<path d="M545.1500000000001,130.9 L555.45,142.1 M555.45,130.9 L545.1500000000001,142.1" stroke="#8a7575" stroke-width="0.5"/>
<rect x="557.1" y="130.9" width="10.3" height="11.2" fill="#f7e0e0" stroke="#8a7575" stroke-width="0.6"/>
<path d="M557.1,130.9 L567.4,142.1 M567.4,130.9 L557.1,142.1" stroke="#8a7575" stroke-width="0.5"/>
<rect x="569.0500000000001" y="130.9" width="10.3" height="11.2" fill="#f7e0e0" stroke="#8a7575" stroke-width="0.6"/>
<path d="M569.0500000000001,130.9 L579.35,142.1 M579.35,130.9 L569.0500000000001,142.1" stroke="#8a7575" stroke-width="0.5"/>
<rect x="581.0" y="130.9" width="10.3" height="11.2" fill="#f7e0e0" stroke="#8a7575" stroke-width="0.6"/>
<path d="M581.0,130.9 L591.3,142.1 M591.3,130.9 L581.0,142.1" stroke="#8a7575" stroke-width="0.5"/>
<rect x="592.95" y="130.9" width="10.3" height="11.2" fill="#f7e0e0" stroke="#8a7575" stroke-width="0.6"/>
<path d="M592.95,130.9 L603.25,142.1 M603.25,130.9 L592.95,142.1" stroke="#8a7575" stroke-width="0.5"/>
<rect x="254.4" y="147.2" width="44.4" height="19" fill="#d5bfc0"/>
<text x="160.70" y="162.2" font-size="6.6" fill="#555" font-weight="normal" textLength="16.70" lengthAdjust="spacingAndGlyphs" >Home</text>
<text x="189.70" y="162.2" font-size="6.6" fill="#555" font-weight="normal" textLength="13.20" lengthAdjust="spacingAndGlyphs" >New</text>
<text x="216.80" y="162.2" font-size="6.6" fill="#555" font-weight="normal" textLength="30.60" lengthAdjust="spacingAndGlyphs" >Pre-Owned</text>
<text x="256.70" y="162.2" font-size="6.6" fill="#f3e9e9" font-weight="normal" textLength="40.60" lengthAdjust="spacingAndGlyphs" >Service &amp; Parts</text>
<text x="307.70" y="162.2" font-size="6.6" fill="#555" font-weight="normal" textLength="26.60" lengthAdjust="spacingAndGlyphs" >TDI Clean</text>
<text x="345.20" y="162.2" font-size="6.6" fill="#555" font-weight="normal" textLength="49.40" lengthAdjust="spacingAndGlyphs" >Auburn Approved!</text>
<text x="405.20" y="162.2" font-size="6.6" fill="#555" font-weight="normal" textLength="37.80" lengthAdjust="spacingAndGlyphs" >Dealer Special</text>
<text x="456.70" y="162.2" font-size="6.6" fill="#555" font-weight="normal" textLength="42.60" lengthAdjust="spacingAndGlyphs" >Get to Know Us</text>
<text x="516.30" y="162.2" font-size="6.6" fill="#555" font-weight="normal" textLength="31.00" lengthAdjust="spacingAndGlyphs" >Driver Tools</text>
<text x="571.30" y="162.2" font-size="6.6" fill="#555" font-weight="normal" textLength="21.40" lengthAdjust="spacingAndGlyphs" >Rate US</text>
<text x="333.30" y="185.5" font-size="9.2" fill="#111" font-weight="bold" textLength="80.10" lengthAdjust="spacingAndGlyphs" stroke="#111" stroke-width="0.4">Value Statement</text>
<text x="255.30" y="198.6" font-size="9.2" fill="#111" font-weight="bold" textLength="236.00" lengthAdjust="spacingAndGlyphs" stroke="#111" stroke-width="0.4">Why This Certain Department over all the others</text>
<rect x="142" y="208.5" width="147.6" height="131" fill="#fff" stroke="#8f8f8f" stroke-width="1"/>
<path d="M142,208.5 L289.6,339.5 M289.6,208.5 L142,339.5" stroke="#8c8c8c" stroke-width="0.9"/>
<rect x="189" y="265.4" width="53" height="17.2" fill="#fff"/>
<text x="190.50" y="272.8" font-size="7.2" fill="#333" font-weight="normal" textLength="50.30" lengthAdjust="spacingAndGlyphs" >SERVICE INTRO</text>
<text x="205.50" y="279.6" font-size="7.2" fill="#333" font-weight="normal" textLength="20.30" lengthAdjust="spacingAndGlyphs" >VIDEO</text>
<rect x="299.4" y="208.5" width="305.6" height="131" fill="#fff" stroke="#8f8f8f" stroke-width="1"/>
<path d="M299.4,208.5 L605,339.5 M605,208.5 L299.4,339.5" stroke="#8c8c8c" stroke-width="0.9"/>
<rect x="447.7" y="216.9" width="156.8" height="112.9" fill="#e3e3e3"/>
<text x="450.30" y="222.9" font-size="6.5" fill="#222" font-weight="normal" textLength="56.90" lengthAdjust="spacingAndGlyphs" >Auburn Volkswagen</text>
<text x="450.30" y="230.2" font-size="6.5" fill="#222" font-weight="normal" textLength="68.90" lengthAdjust="spacingAndGlyphs" >3109 Auburn Way North</text>
<text x="450.30" y="237.5" font-size="6.5" fill="#222" font-weight="normal" textLength="53.50" lengthAdjust="spacingAndGlyphs" >Auburn, WA 98002</text>
<text x="450.30" y="244.9" font-size="6.5" fill="#222" font-weight="normal" textLength="63.80" lengthAdjust="spacingAndGlyphs" >Sales: (866) 406-3172</text>
<text x="450.30" y="252.2" font-size="6.5" fill="#222" font-weight="normal" textLength="69.20" lengthAdjust="spacingAndGlyphs" >Service: (866) 218-2514</text>
<text x="450.30" y="259.5" font-size="6.5" fill="#222" font-weight="normal" textLength="16.60" lengthAdjust="spacingAndGlyphs" >From:</text>
<text x="450.30" y="266.8" font-size="6.5" fill="#222" font-weight="normal" textLength="8.90" lengthAdjust="spacingAndGlyphs" >To:</text>
<text x="450.30" y="281.6" font-size="6.5" fill="#222" font-weight="normal" textLength="59.50" lengthAdjust="spacingAndGlyphs" >Vehicle Sales Hours:</text>
<text x="450.30" y="289" font-size="6.5" fill="#222" font-weight="normal" textLength="72.00" lengthAdjust="spacingAndGlyphs" >Mon-Fri9:00 AM-8:00 PM</text>
<text x="450.30" y="296.3" font-size="6.5" fill="#222" font-weight="normal" textLength="59.50" lengthAdjust="spacingAndGlyphs" >Sat9:00 AM-7:00 PM</text>
<text x="450.30" y="303.7" font-size="6.5" fill="#222" font-weight="normal" textLength="65.00" lengthAdjust="spacingAndGlyphs" >Sun10:00 AM-6:00 PM</text>
<text x="450.30" y="311" font-size="6.5" fill="#222" font-weight="normal" textLength="76.60" lengthAdjust="spacingAndGlyphs" >Service Department Hours:</text>
<text x="170.30" y="361.1" font-size="7.0" fill="#111" font-weight="bold" textLength="90.30" lengthAdjust="spacingAndGlyphs" stroke="#111" stroke-width="0.15">Fixed hub under warranty!</text>
<text x="148.70" y="368.8" font-size="6.5" fill="#666" font-weight="normal" textLength="133.40" lengthAdjust="spacingAndGlyphs" >I had a continuous abs fault. Auburn VW techs</text>
<text x="147.80" y="376.6" font-size="6.5" fill="#666" font-weight="normal" textLength="133.80" lengthAdjust="spacingAndGlyphs" >diagnosed the problem as a bad hub assembly</text>
<text x="150.80" y="384.40000000000003" font-size="6.5" fill="#666" font-weight="normal" textLength="129.80" lengthAdjust="spacingAndGlyphs" >and replaced the part. Everything works now</text>
<text x="150.40" y="392.2" font-size="6.5" fill="#666" font-weight="normal" textLength="130.20" lengthAdjust="spacingAndGlyphs" >Vehicle: VOLKSWAGEN JETTA SPORTWAGEN</text>
<text x="153.00" y="400.0" font-size="6.5" fill="#666" font-weight="normal" textLength="125.40" lengthAdjust="spacingAndGlyphs" >Category: Service Service Date: 04/28/2014</text>
<text x="161.10" y="407.8" font-size="6.5" fill="#666" font-weight="normal" textLength="108.80" lengthAdjust="spacingAndGlyphs" >Review Created: 05/07/2014 01:27 PM</text>
<text x="332.90" y="361.1" font-size="7.0" fill="#111" font-weight="bold" textLength="79.80" lengthAdjust="spacingAndGlyphs" stroke="#111" stroke-width="0.15">Great customer service!</text>
<text x="301.40" y="368.8" font-size="6.5" fill="#666" font-weight="normal" textLength="140.70" lengthAdjust="spacingAndGlyphs" >I love how personable everyone is. From the front</text>
<text x="316.80" y="376.6" font-size="6.5" fill="#666" font-weight="normal" textLength="118.00" lengthAdjust="spacingAndGlyphs" >desk to the mechanics. I heart Auburn VW!</text>
<text x="304.40" y="384.40000000000003" font-size="6.5" fill="#666" font-weight="normal" textLength="137.70" lengthAdjust="spacingAndGlyphs" >Vehicle: VOLKSWAGEN JETTA SEDAN Category:</text>
<text x="325.40" y="392.2" font-size="6.5" fill="#666" font-weight="normal" textLength="95.90" lengthAdjust="spacingAndGlyphs" >Service Service Date: 04/23/2014</text>
<text x="319.40" y="400.0" font-size="6.5" fill="#666" font-weight="normal" textLength="108.30" lengthAdjust="spacingAndGlyphs" >Review Created: 05/07/2014 11:48 AM</text>
<text x="479.10" y="361.1" font-size="7.0" fill="#111" font-weight="bold" textLength="103.50" lengthAdjust="spacingAndGlyphs" stroke="#111" stroke-width="0.15">Polite &amp; accomodating service</text>
<text x="456.90" y="368.8" font-size="6.5" fill="#666" font-weight="normal" textLength="147.90" lengthAdjust="spacingAndGlyphs" >Agent was polite, patient in explanations, gave best</text>
<text x="461.30" y="376.6" font-size="6.5" fill="#666" font-weight="normal" textLength="139.00" lengthAdjust="spacingAndGlyphs" >effort to accomodate my needs, and the service</text>
<text x="517.80" y="384.40000000000003" font-size="6.5" fill="#666" font-weight="normal" textLength="26.10" lengthAdjust="spacingAndGlyphs" >was fast!</text>
<text x="462.50" y="392.2" font-size="6.5" fill="#666" font-weight="normal" textLength="136.70" lengthAdjust="spacingAndGlyphs" >Vehicle: VOLKSWAGEN JETTA SEDAN Category:</text>
<text x="483.50" y="400.0" font-size="6.5" fill="#666" font-weight="normal" textLength="94.70" lengthAdjust="spacingAndGlyphs" >Service Service Date: 04/25/2014</text>
<text x="476.80" y="407.8" font-size="6.5" fill="#666" font-weight="normal" textLength="109.10" lengthAdjust="spacingAndGlyphs" >Review Created: 05/03/2014 07:38 PM</text>
<circle cx="175.5" cy="472" r="38" fill="#00b3ef"/>
<circle cx="273.7" cy="472" r="38" fill="#00b3ef"/>
<circle cx="373.7" cy="472" r="38" fill="#00b3ef"/>
<circle cx="472" cy="472" r="38" fill="#00b3ef"/>
<circle cx="570" cy="472" r="38" fill="#00b3ef"/>
<rect x="200.5" y="430" width="6.9" height="6.5" fill="#f7f000" stroke="#d4cc00" stroke-width="0.3"/>
<path d="M204.8,431.6 L202.8,434.1 L204.1,434.1 L203.4,436 L205.20000000000002,433.2 L203.9,433.2 z" fill="#1a2a80"/>
<rect x="299.5" y="430" width="6.9" height="6.5" fill="#f7f000" stroke="#d4cc00" stroke-width="0.3"/>
<path d="M303.79999999999995,431.6 L301.79999999999995,434.1 L303.09999999999997,434.1 L302.4,436 L304.2,433.2 L302.9,433.2 z" fill="#1a2a80"/>
<rect x="398.3" y="430" width="6.9" height="6.5" fill="#f7f000" stroke="#d4cc00" stroke-width="0.3"/>
<path d="M402.59999999999997,431.6 L400.59999999999997,434.1 L401.9,434.1 L401.2,436 L403.0,433.2 L401.7,433.2 z" fill="#1a2a80"/>
<rect x="497.5" y="430" width="6.9" height="6.5" fill="#f7f000" stroke="#d4cc00" stroke-width="0.3"/>
<path d="M501.79999999999995,431.6 L499.79999999999995,434.1 L501.09999999999997,434.1 L500.4,436 L502.2,433.2 L500.9,433.2 z" fill="#1a2a80"/>
<rect x="595.2" y="430" width="6.9" height="6.5" fill="#f7f000" stroke="#d4cc00" stroke-width="0.3"/>
<path d="M599.5,431.6 L597.5,434.1 L598.8000000000001,434.1 L598.1,436 L599.9,433.2 L598.6,433.2 z" fill="#1a2a80"/>
<rect x="140.05" y="85.9" width="1.1" height="80.3" fill="#ffffd2" opacity="0.55"/>
<rect x="142.95" y="85.9" width="1.1" height="80.3" fill="#ffffd2" opacity="0.55"/>
<rect x="141.15" y="85.9" width="1.7" height="7.2" fill="#ff80ff"/>
<rect x="141.15" y="93.1" width="1.7" height="73.1" fill="#f47ae8"/>
<rect x="141.15" y="166.2" width="1.7" height="263.8" fill="#ff80ff"/>
<rect x="141.15" y="430" width="1.7" height="21" fill="#ff00ff" opacity="0.55"/>
<rect x="169.55" y="85.9" width="1.1" height="80.3" fill="#ffffd2" opacity="0.55"/>
<rect x="172.45" y="85.9" width="1.1" height="80.3" fill="#ffffd2" opacity="0.55"/>
<rect x="170.65" y="85.9" width="1.7" height="7.2" fill="#ff80ff"/>
<rect x="170.65" y="93.1" width="1.7" height="73.1" fill="#f47ae8"/>
<rect x="170.65" y="166.2" width="1.7" height="263.8" fill="#ff80ff"/>
<rect x="170.65" y="430" width="1.7" height="21" fill="#ff00ff" opacity="0.55"/>
<rect x="179.44" y="85.9" width="1.1" height="80.3" fill="#ffffd2" opacity="0.55"/>
<rect x="182.34" y="85.9" width="1.1" height="80.3" fill="#ffffd2" opacity="0.55"/>
<rect x="180.54" y="85.9" width="1.7" height="7.2" fill="#ff80ff"/>
<rect x="180.54" y="93.1" width="1.7" height="73.1" fill="#f47ae8"/>
<rect x="180.54" y="166.2" width="1.7" height="263.8" fill="#ff80ff"/>
<rect x="180.54" y="430" width="1.7" height="21" fill="#ff00ff" opacity="0.55"/>
<rect x="208.94" y="85.9" width="1.1" height="80.3" fill="#ffffd2" opacity="0.55"/>
<rect x="211.84" y="85.9" width="1.1" height="80.3" fill="#ffffd2" opacity="0.55"/>
<rect x="210.04" y="85.9" width="1.7" height="7.2" fill="#ff80ff"/>
<rect x="210.04" y="93.1" width="1.7" height="73.1" fill="#f47ae8"/>
<rect x="210.04" y="166.2" width="1.7" height="263.8" fill="#ff80ff"/>
<rect x="210.04" y="430" width="1.7" height="21" fill="#ff00ff" opacity="0.55"/>
<rect x="218.82" y="85.9" width="1.1" height="80.3" fill="#ffffd2" opacity="0.55"/>
<rect x="221.72" y="85.9" width="1.1" height="80.3" fill="#ffffd2" opacity="0.55"/>
<rect x="219.92" y="85.9" width="1.7" height="7.2" fill="#ff80ff"/>
<rect x="219.92" y="93.1" width="1.7" height="73.1" fill="#f47ae8"/>
<rect x="219.92" y="166.2" width="1.7" height="263.8" fill="#ff80ff"/>
<rect x="219.92" y="430" width="1.7" height="21" fill="#ff00ff" opacity="0.55"/>
<rect x="248.32" y="85.9" width="1.1" height="80.3" fill="#ffffd2" opacity="0.55"/>
<rect x="251.22" y="85.9" width="1.1" height="80.3" fill="#ffffd2" opacity="0.55"/>
<rect x="249.42" y="85.9" width="1.7" height="7.2" fill="#ff80ff"/>
<rect x="249.42" y="93.1" width="1.7" height="73.1" fill="#f47ae8"/>
<rect x="249.42" y="166.2" width="1.7" height="263.8" fill="#ff80ff"/>
<rect x="249.42" y="430" width="1.7" height="21" fill="#ff00ff" opacity="0.55"/>
<rect x="258.21" y="85.9" width="1.1" height="80.3" fill="#ffffd2" opacity="0.55"/>
<rect x="261.11" y="85.9" width="1.1" height="80.3" fill="#ffffd2" opacity="0.55"/>
<rect x="259.31" y="85.9" width="1.7" height="7.2" fill="#ff80ff"/>
<rect x="259.31" y="93.1" width="1.7" height="73.1" fill="#f47ae8"/>
<rect x="259.31" y="166.2" width="1.7" height="263.8" fill="#ff80ff"/>
<rect x="259.31" y="430" width="1.7" height="21" fill="#ff00ff" opacity="0.55"/>
<rect x="287.71" y="85.9" width="1.1" height="80.3" fill="#ffffd2" opacity="0.55"/>
<rect x="290.61" y="85.9" width="1.1" height="80.3" fill="#ffffd2" opacity="0.55"/>
<rect x="288.81" y="85.9" width="1.7" height="7.2" fill="#ff80ff"/>
<rect x="288.81" y="93.1" width="1.7" height="73.1" fill="#f47ae8"/>
<rect x="288.81" y="166.2" width="1.7" height="263.8" fill="#ff80ff"/>
<rect x="288.81" y="430" width="1.7" height="21" fill="#ff00ff" opacity="0.55"/>
<rect x="297.59" y="85.9" width="1.1" height="80.3" fill="#ffffd2" opacity="0.55"/>
<rect x="300.49" y="85.9" width="1.1" height="80.3" fill="#ffffd2" opacity="0.55"/>
<rect x="298.69" y="85.9" width="1.7" height="7.2" fill="#ff80ff"/>
<rect x="298.69" y="93.1" width="1.7" height="73.1" fill="#f47ae8"/>
<rect x="298.69" y="166.2" width="1.7" height="263.8" fill="#ff80ff"/>
<rect x="298.69" y="430" width="1.7" height="21" fill="#ff00ff" opacity="0.55"/>
<rect x="327.09" y="85.9" width="1.1" height="80.3" fill="#ffffd2" opacity="0.55"/>
<rect x="329.99" y="85.9" width="1.1" height="80.3" fill="#ffffd2" opacity="0.55"/>
<rect x="328.19" y="85.9" width="1.7" height="7.2" fill="#ff80ff"/>
<rect x="328.19" y="93.1" width="1.7" height="73.1" fill="#f47ae8"/>
<rect x="328.19" y="166.2" width="1.7" height="263.8" fill="#ff80ff"/>
<rect x="328.19" y="430" width="1.7" height="21" fill="#ff00ff" opacity="0.55"/>
<rect x="336.98" y="85.9" width="1.1" height="80.3" fill="#ffffd2" opacity="0.55"/>
<rect x="339.88" y="85.9" width="1.1" height="80.3" fill="#ffffd2" opacity="0.55"/>
<rect x="338.08" y="85.9" width="1.7" height="7.2" fill="#ff80ff"/>
<rect x="338.08" y="93.1" width="1.7" height="73.1" fill="#f47ae8"/>
<rect x="338.08" y="166.2" width="1.7" height="263.8" fill="#ff80ff"/>
<rect x="338.08" y="430" width="1.7" height="21" fill="#ff00ff" opacity="0.55"/>
<rect x="366.48" y="85.9" width="1.1" height="80.3" fill="#ffffd2" opacity="0.55"/>
<rect x="369.38" y="85.9" width="1.1" height="80.3" fill="#ffffd2" opacity="0.55"/>
<rect x="367.58" y="85.9" width="1.7" height="7.2" fill="#ff80ff"/>
<rect x="367.58" y="93.1" width="1.7" height="73.1" fill="#f47ae8"/>
<rect x="367.58" y="166.2" width="1.7" height="263.8" fill="#ff80ff"/>
<rect x="367.58" y="430" width="1.7" height="21" fill="#ff00ff" opacity="0.55"/>
<rect x="376.37" y="85.9" width="1.1" height="80.3" fill="#ffffd2" opacity="0.55"/>
<rect x="379.27" y="85.9" width="1.1" height="80.3" fill="#ffffd2" opacity="0.55"/>
<rect x="377.47" y="85.9" width="1.7" height="7.2" fill="#ff80ff"/>
<rect x="377.47" y="93.1" width="1.7" height="73.1" fill="#f47ae8"/>
<rect x="377.47" y="166.2" width="1.7" height="263.8" fill="#ff80ff"/>
<rect x="377.47" y="430" width="1.7" height="21" fill="#ff00ff" opacity="0.55"/>
<rect x="415.75" y="85.9" width="1.1" height="80.3" fill="#ffffd2" opacity="0.55"/>
<rect x="418.65" y="85.9" width="1.1" height="80.3" fill="#ffffd2" opacity="0.55"/>
<rect x="416.85" y="85.9" width="1.7" height="7.2" fill="#ff80ff"/>
<rect x="416.85" y="93.1" width="1.7" height="73.1" fill="#f47ae8"/>
<rect x="416.85" y="166.2" width="1.7" height="263.8" fill="#ff80ff"/>
<rect x="416.85" y="430" width="1.7" height="21" fill="#ff00ff" opacity="0.55"/>
<rect x="445.25" y="85.9" width="1.1" height="80.3" fill="#ffffd2" opacity="0.55"/>
<rect x="448.15" y="85.9" width="1.1" height="80.3" fill="#ffffd2" opacity="0.55"/>
<rect x="446.35" y="85.9" width="1.7" height="7.2" fill="#ff80ff"/>
<rect x="446.35" y="93.1" width="1.7" height="73.1" fill="#f47ae8"/>
<rect x="446.35" y="166.2" width="1.7" height="263.8" fill="#ff80ff"/>
<rect x="446.35" y="430" width="1.7" height="21" fill="#ff00ff" opacity="0.55"/>
<rect x="455.14" y="85.9" width="1.1" height="80.3" fill="#ffffd2" opacity="0.55"/>
<rect x="458.04" y="85.9" width="1.1" height="80.3" fill="#ffffd2" opacity="0.55"/>
<rect x="456.24" y="85.9" width="1.7" height="7.2" fill="#ff80ff"/>
<rect x="456.24" y="93.1" width="1.7" height="73.1" fill="#f47ae8"/>
<rect x="456.24" y="166.2" width="1.7" height="263.8" fill="#ff80ff"/>
<rect x="456.24" y="430" width="1.7" height="21" fill="#ff00ff" opacity="0.55"/>
<rect x="494.52" y="85.9" width="1.1" height="80.3" fill="#ffffd2" opacity="0.55"/>
<rect x="497.42" y="85.9" width="1.1" height="80.3" fill="#ffffd2" opacity="0.55"/>
<rect x="495.62" y="85.9" width="1.7" height="7.2" fill="#ff80ff"/>
<rect x="495.62" y="93.1" width="1.7" height="73.1" fill="#f47ae8"/>
<rect x="495.62" y="166.2" width="1.7" height="263.8" fill="#ff80ff"/>
<rect x="495.62" y="430" width="1.7" height="21" fill="#ff00ff" opacity="0.55"/>
<rect x="524.02" y="85.9" width="1.1" height="80.3" fill="#ffffd2" opacity="0.55"/>
<rect x="526.92" y="85.9" width="1.1" height="80.3" fill="#ffffd2" opacity="0.55"/>
<rect x="525.12" y="85.9" width="1.7" height="7.2" fill="#ff80ff"/>
<rect x="525.12" y="93.1" width="1.7" height="73.1" fill="#f47ae8"/>
<rect x="525.12" y="166.2" width="1.7" height="263.8" fill="#ff80ff"/>
<rect x="525.12" y="430" width="1.7" height="21" fill="#ff00ff" opacity="0.55"/>
<rect x="533.91" y="85.9" width="1.1" height="80.3" fill="#ffffd2" opacity="0.55"/>
<rect x="536.81" y="85.9" width="1.1" height="80.3" fill="#ffffd2" opacity="0.55"/>
<rect x="535.01" y="85.9" width="1.7" height="7.2" fill="#ff80ff"/>
<rect x="535.01" y="93.1" width="1.7" height="73.1" fill="#f47ae8"/>
<rect x="535.01" y="166.2" width="1.7" height="263.8" fill="#ff80ff"/>
<rect x="535.01" y="430" width="1.7" height="21" fill="#ff00ff" opacity="0.55"/>
<rect x="563.41" y="85.9" width="1.1" height="80.3" fill="#ffffd2" opacity="0.55"/>
<rect x="566.31" y="85.9" width="1.1" height="80.3" fill="#ffffd2" opacity="0.55"/>
<rect x="564.51" y="85.9" width="1.7" height="7.2" fill="#ff80ff"/>
<rect x="564.51" y="93.1" width="1.7" height="73.1" fill="#f47ae8"/>
<rect x="564.51" y="166.2" width="1.7" height="263.8" fill="#ff80ff"/>
<rect x="564.51" y="430" width="1.7" height="21" fill="#ff00ff" opacity="0.55"/>
<rect x="573.30" y="85.9" width="1.1" height="80.3" fill="#ffffd2" opacity="0.55"/>
<rect x="576.20" y="85.9" width="1.1" height="80.3" fill="#ffffd2" opacity="0.55"/>
<rect x="574.40" y="85.9" width="1.7" height="7.2" fill="#ff80ff"/>
<rect x="574.40" y="93.1" width="1.7" height="73.1" fill="#f47ae8"/>
<rect x="574.40" y="166.2" width="1.7" height="263.8" fill="#ff80ff"/>
<rect x="574.40" y="430" width="1.7" height="21" fill="#ff00ff" opacity="0.55"/>
<rect x="602.80" y="85.9" width="1.1" height="80.3" fill="#ffffd2" opacity="0.55"/>
<rect x="605.70" y="85.9" width="1.1" height="80.3" fill="#ffffd2" opacity="0.55"/>
<rect x="603.90" y="85.9" width="1.7" height="7.2" fill="#ff80ff"/>
<rect x="603.90" y="93.1" width="1.7" height="73.1" fill="#f47ae8"/>
<rect x="603.90" y="166.2" width="1.7" height="263.8" fill="#ff80ff"/>
<rect x="603.90" y="430" width="1.7" height="21" fill="#ff00ff" opacity="0.55"/>
<rect x="607.75" y="85.9" width="1.1" height="80.3" fill="#ffffd2" opacity="0.55"/>
<rect x="610.65" y="85.9" width="1.1" height="80.3" fill="#ffffd2" opacity="0.55"/>
<rect x="608.85" y="85.9" width="1.7" height="7.2" fill="#ff80ff"/>
<rect x="608.85" y="93.1" width="1.7" height="73.1" fill="#f47ae8"/>
<rect x="608.85" y="166.2" width="1.7" height="263.8" fill="#ff80ff"/>
<rect x="608.85" y="430" width="1.7" height="21" fill="#ff00ff" opacity="0.55"/>
<rect x="0" y="0" width="700" height="1.0" fill="#fb7d12"/>
<rect x="0" y="0" width="1.0" height="452" fill="#fb7d12"/>
<rect x="698.7" y="0" width="1.3" height="452" fill="#fb7d12"/>
<rect x="0" y="450.6" width="700" height="1.4" fill="#fb7d12"/>
</svg>
</body></html>
